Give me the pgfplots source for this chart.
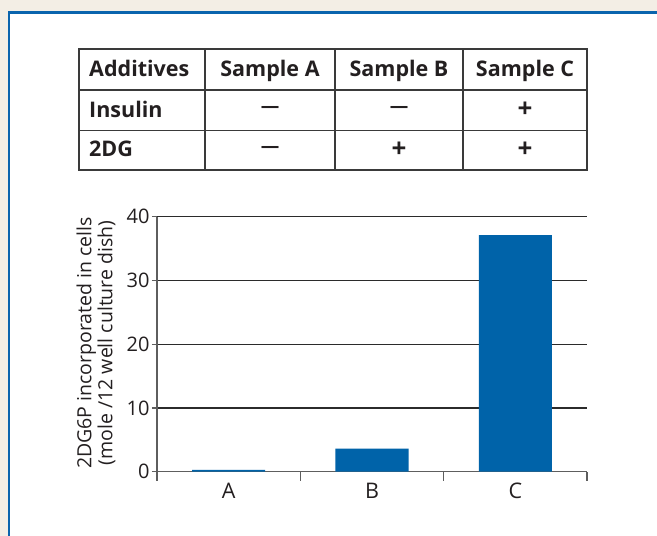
\documentclass[border=0pt]{standalone}
\usepackage{pgfplots}
\pgfplotsset{compat=1.18}
\usepackage{fontspec}
\setmainfont{Open Sans}
\definecolor{bg}{HTML}{F3EEE5}
\definecolor{fblue}{HTML}{0A64AD}
\definecolor{barblue}{HTML}{0063A9}
\definecolor{txt}{HTML}{231F20}
\definecolor{axgray}{HTML}{5E5E5E}
\definecolor{gridc}{HTML}{2B2B2B}
\definecolor{tabline}{HTML}{3A3A3A}
\begin{document}
\begin{tikzpicture}
\useasboundingbox (0,0) rectangle (657pt,536pt);
\clip (0,0) rectangle (657pt,536pt);
\fill[bg] (0,0) rectangle (657pt,536pt);
\filldraw[fill=white, draw=fblue, line width=2.5pt] (9pt,-10pt) rectangle (690pt,523.5pt);
% table
\begin{scope}[draw=tabline, line width=1.4pt]
\draw (79pt,487pt) rectangle (587pt,366pt);
\draw (79pt,446pt) -- (587pt,446pt);
\draw (79pt,405.5pt) -- (587pt,405.5pt);
\foreach \x in {205,335,463} \draw (\x pt,487pt) -- (\x pt,366pt);
\end{scope}
\begin{scope}[every node/.style={text=txt, inner sep=0pt, font=\fontsize{21.5}{25}\selectfont\bfseries}]
\node[anchor=base west] at (89pt,459pt) {Additives};
\node[anchor=base] at (270pt,459pt) {Sample A};
\node[anchor=base] at (399pt,459pt) {Sample B};
\node[anchor=base] at (525pt,459pt) {Sample C};
\node[anchor=base west] at (89pt,418.5pt) {Insulin};
\node[anchor=base west] at (89pt,379pt) {2DG};
\node[font=\fontsize{18.5}{20}\selectfont\bfseries] at (270pt,427pt) {—};
\node[font=\fontsize{18.5}{20}\selectfont\bfseries] at (399pt,427pt) {—};
\node[font=\fontsize{26}{28}\selectfont\bfseries] at (525pt,426pt) {+};
\node[font=\fontsize{18.5}{20}\selectfont\bfseries] at (270pt,387pt) {—};
\node[font=\fontsize{26}{28}\selectfont\bfseries] at (399pt,386pt) {+};
\node[font=\fontsize{26}{28}\selectfont\bfseries] at (525pt,386pt) {+};
\end{scope}
\begin{axis}[
  at={(157pt,64.3pt)}, anchor=south west,
  scale only axis, width=430pt, height=255pt,
  xmin=0, xmax=3, ymin=0, ymax=40,
  axis x line*=bottom, axis y line*=left,
  axis line style={axgray, line width=1.5pt, -},
  ytick={0,10,20,30,40},
  ymajorgrids, grid style={gridc, line width=1.2pt},
  xtick={0.5,1.5,2.5}, xticklabels={A,B,C},
  major x tick style={draw=none},
  minor xtick={0,1,2,3},
  tick style={axgray, line width=1.3pt},
  tick align=outside,
  major tick length=5pt, minor tick length=9pt,
  /pgf/number format/assume math mode=true,
  yticklabel style={font=\fontsize{20}{23}\selectfont, text=txt, xshift=1pt},
  xticklabel style={font=\fontsize{21.5}{24}\selectfont, text=txt, yshift=-3pt},
  ylabel={2DG6P incorporated in cells\\(mole /12 well culture dish)},
  ylabel style={align=center, font=\fontsize{19.5}{21}\selectfont, text=txt, at={(axis description cs:-0.142,0.505)}, anchor=center},
]
\addplot[ybar, fill=barblue, draw=none, bar width=0.51] coordinates {(0.5,0.3) (1.5,3.6) (2.5,37.1)};
\end{axis}
\end{tikzpicture}
\end{document}
